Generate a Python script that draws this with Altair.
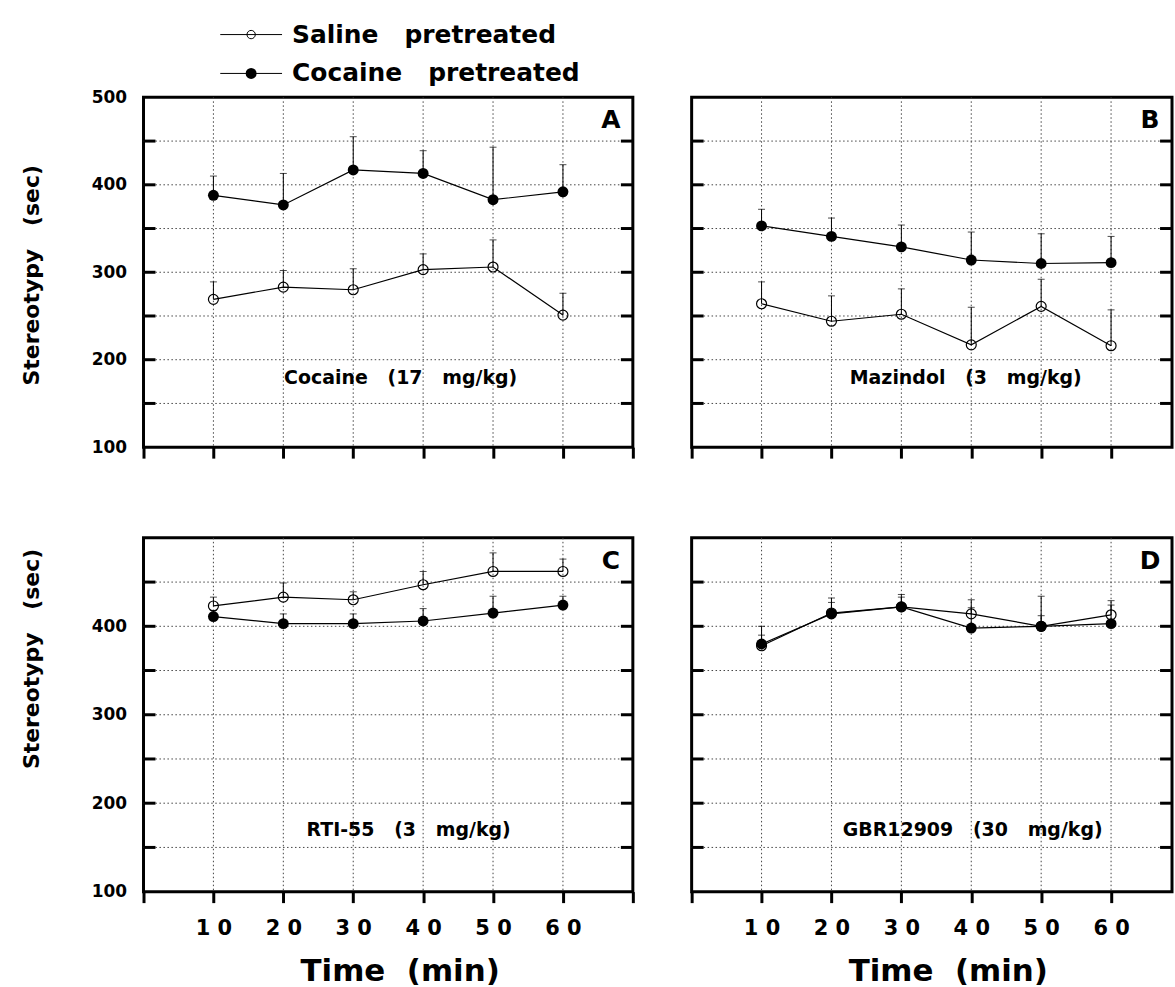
import altair as alt
import pandas as pd

NB = "\u00a0"

# ---------------- data ----------------
time_min = [10, 20, 30, 40, 50, 60]

a_saline = [269, 283, 280, 303, 306, 251]
a_saline_top = [289, 302, 304, 321, 337, 276]
a_cocaine = [388, 377, 417, 413, 383, 392]
a_cocaine_top = [410, 413, 455, 439, 443, 423]

b_saline = [264, 244, 252, 217, 261, 216]
b_saline_top = [289, 273, 281, 260, 292, 257]
b_cocaine = [353, 341, 329, 314, 310, 311]
b_cocaine_top = [372, 362, 354, 346, 344, 341]

c_saline = [423, 433, 430, 447, 462, 462]
c_saline_top = [433, 449, 439, 462, 483, 476]
c_cocaine = [411, 403, 403, 406, 415, 424]
c_cocaine_top = [418, 414, 414, 420, 434, 434]

d_saline = [378, 415, 422, 414, 400, 413]
d_saline_top = [400, 427, 433, 430, 412, 429]
d_cocaine = [380, 414, 422, 398, 400, 403]
d_cocaine_top = [390, 432, 436, 421, 434, 424]

panel_letters = ["A", "B", "C", "D"]
drug_labels = ["Cocaine (17 mg/kg)", "Mazindol (3 mg/kg)", "RTI-55 (3 mg/kg)", "GBR12909 (30 mg/kg)"]
legend_labels = ["Saline pretreated", "Cocaine pretreated"]
x_tick_values = [0, 10, 20, 30, 40, 50, 60, 70]
x_grid_values = [10, 20, 30, 40, 50, 60]
y_grid_values = [150, 200, 250, 300, 350, 400, 450]
y_label_top = [100, 200, 300, 400, 500]
y_label_bottom = [100, 200, 300, 400]
y_title = "Stereotypy (sec)"
x_title = "Time (min)"

FONT = "DejaVu Sans"


def wide(s, n=3):
    return s.replace(" ", NB * n)


def panel(letter, drug, sal, sal_top, coc, coc_top, w, h, xmax,
          show_x_labels, y_label_values, title_y, label_px, label_py, legend=False):
    df = pd.DataFrame({
        "time": time_min * 2,
        "group": ["Saline"] * 6 + ["Cocaine"] * 6,
        "mean": sal + coc,
        "top": sal_top + coc_top,
    })
    xs = alt.Scale(domain=[0, xmax], nice=False, zero=False)
    ys = alt.Scale(domain=[100, 500], nice=False, zero=False)
    xvals = [v for v in x_tick_values if v <= xmax]
    if show_x_labels:
        xaxis = alt.Axis(values=xvals, grid=False, domain=False, ticks=True, tickSize=11,
                         tickWidth=3, tickColor="black",
                         labelExpr="datum.value > 0 && datum.value < 70 ? floor(datum.value / 10) + ' 0' : ''",
                         labelFont=FONT, labelFontSize=21, labelFontWeight="bold", labelColor="black",
                         labelPadding=15, labelFlush=False, labelOverlap=False,
                         title=wide(x_title, 2), titleFont=FONT, titleFontSize=31,
                         titleFontWeight="bold", titleColor="black", titlePadding=18, titleX=257)
    else:
        xaxis = alt.Axis(values=xvals, grid=False, domain=False, ticks=True, tickSize=11,
                         tickWidth=3, tickColor="black", labels=False, title=None)
    if y_label_values:
        yaxis = alt.Axis(values=y_label_values, grid=False, domain=False, ticks=False, tickSize=0,
                         labelFont=FONT, labelFontSize=17, labelFontWeight="bold", labelColor="black",
                         labelPadding=17, labelFlush=False, labelOverlap=False,
                         title=wide(y_title, 3), titleFont=FONT, titleFontSize=22,
                         titleFontWeight="bold", titleColor="black", titlePadding=48, titleY=title_y)
    else:
        yaxis = None

    X = alt.X("time:Q", scale=xs, axis=xaxis)
    Y = alt.Y("mean:Q", scale=ys, axis=yaxis)

    vgrid = alt.Chart(pd.DataFrame({"time": x_grid_values})).mark_rule(
        color="#444", strokeDash=[1.5, 2.5], strokeWidth=1).encode(
        x=X, y=alt.value(0), y2=alt.value(h))
    hgrid = alt.Chart(pd.DataFrame({"mean": y_grid_values})).mark_rule(
        color="#444", strokeDash=[1.5, 2.5], strokeWidth=1).encode(
        y=Y, x=alt.value(0), x2=alt.value(w))
    lticks = alt.Chart(pd.DataFrame({"mean": y_grid_values})).mark_rule(
        color="black", strokeWidth=3).encode(y=Y, x=alt.value(0), x2=alt.value(12))
    rticks = alt.Chart(pd.DataFrame({"mean": y_grid_values})).mark_rule(
        color="black", strokeWidth=3).encode(y=Y, x=alt.value(w - 12), x2=alt.value(w))

    lines = alt.Chart(df).mark_line(color="black", strokeWidth=1.2).encode(
        x=X, y=Y, detail="group:N")
    err = alt.Chart(df).mark_rule(color="black", strokeWidth=1).encode(
        x=X, y=Y, y2="top:Q")
    cap = alt.Chart(df).mark_tick(orient="horizontal", color="black", size=7, thickness=1).encode(
        x=X, y=alt.Y("top:Q", scale=ys, axis=yaxis))
    sal_pts = alt.Chart(df).transform_filter("datum.group == 'Saline'").mark_point(
        shape="circle", size=100, filled=False, color="black", strokeWidth=1.2, opacity=1).encode(x=X, y=Y)
    coc_pts = alt.Chart(df).transform_filter("datum.group == 'Cocaine'").mark_point(
        shape="circle", size=120, filled=True, color="black", opacity=1).encode(x=X, y=Y)

    letter_txt = alt.Chart(pd.DataFrame({"t": [letter]})).mark_text(
        font=FONT, fontSize=25, fontWeight="bold", color="black", align="center", baseline="middle").encode(
        text="t:N", x=alt.value(w - 22), y=alt.value(23))
    drug_txt = alt.Chart(pd.DataFrame({"t": [wide(drug, 3)]})).mark_text(
        font=FONT, fontSize=19, fontWeight="bold", color="black", align="center", baseline="middle").encode(
        text="t:N", x=alt.value(label_px), y=alt.value(label_py))

    layers = [vgrid, hgrid, lticks, rticks, lines, err, cap, sal_pts, coc_pts, letter_txt, drug_txt]

    if legend:
        for i, lab in enumerate(legend_labels):
            yy = -63 if i == 0 else -24
            d1 = pd.DataFrame({"t": [wide(lab, 3)]})
            layers.append(alt.Chart(d1).mark_rule(color="black", strokeWidth=1).encode(
                x=alt.value(77), x2=alt.value(139), y=alt.value(yy)))
            if i == 0:
                layers.append(alt.Chart(d1).mark_point(shape="circle", size=70, filled=False,
                                                       color="black", strokeWidth=1, opacity=1).encode(
                    x=alt.value(108), y=alt.value(yy)))
            else:
                layers.append(alt.Chart(d1).mark_point(shape="circle", size=120, filled=True,
                                                       color="black", opacity=1).encode(
                    x=alt.value(108), y=alt.value(yy)))
            layers.append(alt.Chart(d1).mark_text(font=FONT, fontSize=25, fontWeight="bold", color="black",
                                                  align="left", baseline="middle").encode(
                text="t:N", x=alt.value(149), y=alt.value(yy)))

    return alt.layer(*layers).properties(width=w, height=h)


W_LEFT = 491
W_RIGHT = 482
XMAX_RIGHT = 70 * W_RIGHT / W_LEFT

pA = panel(panel_letters[0], drug_labels[0], a_saline, a_saline_top, a_cocaine, a_cocaine_top,
           W_LEFT, 351, 70, False, y_label_top, 178, 258, 282, legend=True)
pB = panel(panel_letters[1], drug_labels[1], b_saline, b_saline_top, b_cocaine, b_cocaine_top,
           W_RIGHT, 351, XMAX_RIGHT, False, None, 178, 275, 282)
pC = panel(panel_letters[2], drug_labels[2], c_saline, c_saline_top, c_cocaine, c_cocaine_top,
           W_LEFT, 355, 70, True, y_label_bottom, 121, 266, 293)
pD = panel(panel_letters[3], drug_labels[3], d_saline, d_saline_top, d_cocaine, d_cocaine_top,
           W_RIGHT, 355, XMAX_RIGHT, True, None, 121, 282, 293)

chart = alt.concat(pA, pB, pC, pD, columns=2, spacing={"row": 91, "column": 59}, bounds="flush").properties(
    padding={"left": 19, "top": 19, "right": 0, "bottom": 1},
    background="white",
).configure(font=FONT).configure_view(stroke="black", strokeWidth=3)

chart.save("out.html", embed_options={"renderer": "svg", "actions": False})
